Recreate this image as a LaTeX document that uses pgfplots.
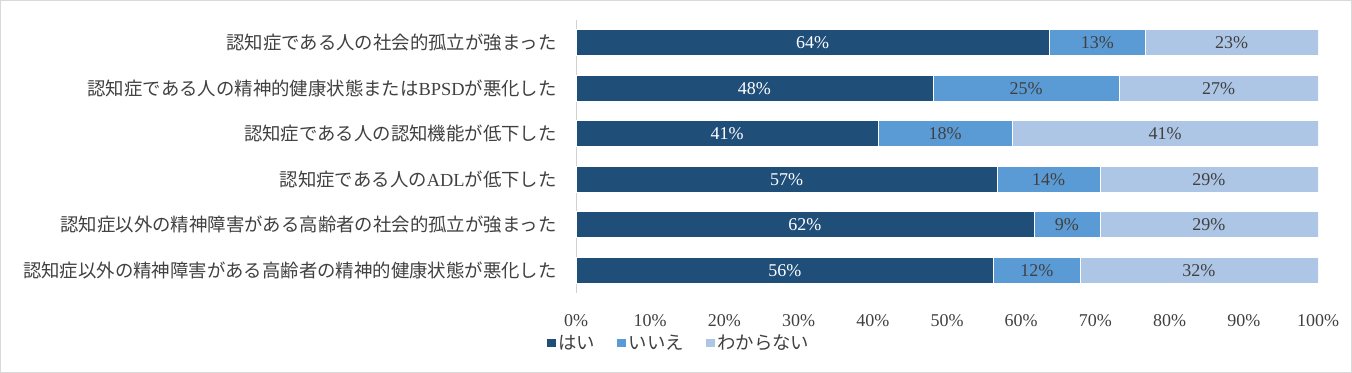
\documentclass[border=0pt]{standalone}
\usepackage{fontspec}
\setmainfont{Liberation Serif}
\newfontfamily\cjk{Noto Sans CJK JP}
\usepackage{pgfplots}
\pgfplotsset{compat=1.18}
\definecolor{c1}{HTML}{1F4E79}
\definecolor{c2}{HTML}{5B9BD5}
\definecolor{c3}{HTML}{ADC6E6}
\definecolor{txt}{HTML}{404040}
\newcommand\J[1]{{\cjk #1}}
\begin{document}
\begin{tikzpicture}
\useasboundingbox (0,0) rectangle (1014pt,279.75pt);
\draw[gray!30, line width=0.75pt] (0.6pt,0.6pt) rectangle (1013.4pt,279.15pt);
\begin{axis}[
 at={(432pt,60pt)}, anchor=south west,
 scale only axis, x=5.565pt, height=204.75pt,
 xbar stacked, bar width=19.5pt,
 xmin=0, xmax=100, ymin=-0.5, ymax=5.5, y dir=reverse,
 ytick={0,1,2,3,4,5},
 yticklabels={
  \J{認知症である人の社会的孤立が強まった},
  \J{認知症である人の精神的健康状態または}BPSD\J{が悪化した},
  \J{認知症である人の認知機能が低下した},
  \J{認知症である人の}ADL\J{が低下した},
  \J{認知症以外の精神障害がある高齢者の社会的孤立が強まった},
  \J{認知症以外の精神障害がある高齢者の精神的健康状態が悪化した}},
 xtick={0,10,...,100},
 xticklabel={\pgfmathprintnumber{\tick}\%},
 /pgf/number format/assume math mode=true,
 axis line style={draw=none}, major tick length=0pt,
 tick label style={text=txt},
 yticklabel style={font=\fontsize{13.8pt}{16pt}\selectfont, xshift=-11pt},
 xticklabel style={font=\fontsize{13.5pt}{15pt}\selectfont, yshift=-12.5pt},
 legend style={at={(0,0)}, anchor=west, xshift=-25pt, yshift=-37.5pt,
   draw=none, fill=none, legend columns=3,
   font=\cjk\fontsize{13.8pt}{16pt}\selectfont, text=txt,
   /tikz/every even column/.append style={column sep=14.5pt}},
 legend image code/.code={\fill[#1,draw=none] (0pt,-3.3pt) rectangle (6.6pt,3.3pt);},
 visualization depends on={rawx \as \rawx},
 nodes near coords={\pgfmathprintnumber[fixed,precision=0]{\rawx}\%},
 every node near coord/.append style={anchor=center,
   font=\fontsize{13.5pt}{15pt}\selectfont, text=txt},
]
\addplot[fill=c1, draw=white, every node near coord/.append style={text=white}]
 coordinates {(63.8,0) (48.1,1) (40.7,2) (56.8,3) (61.7,4) (56.3,5)};
\addplot[fill=c2, draw=white]
 coordinates {(12.9,0) (25.1,1) (18.1,2) (13.8,3) (8.9,4) (11.6,5)};
\addplot[fill=c3, draw=white]
 coordinates {(23.3,0) (26.8,1) (41.2,2) (29.4,3) (29.4,4) (32.1,5)};
\legend{はい,いいえ,わからない}
\draw[gray!35] (rel axis cs:0,0) -- (rel axis cs:0,1);
\end{axis}
\end{tikzpicture}
\end{document}
